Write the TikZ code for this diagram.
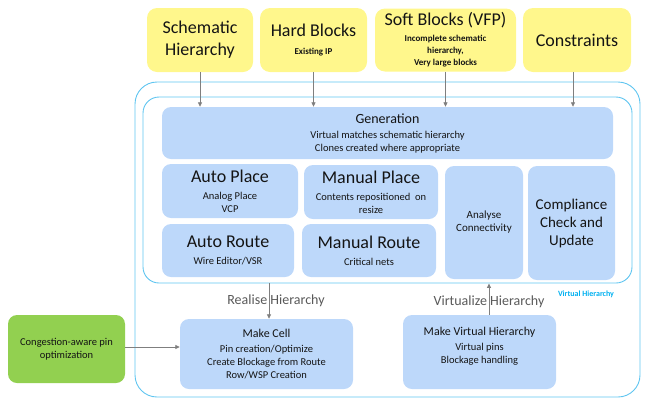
\documentclass[tikz,border=0pt]{standalone}
\usepackage{fontspec}
\setmainfont{Carlito}
\usepackage{tikz}
\usetikzlibrary{arrows.meta,calc}
\definecolor{ylw}{RGB}{255,247,140}
\definecolor{blu}{RGB}{189,216,250}
\definecolor{grn}{RGB}{146,208,80}
\definecolor{cyn}{RGB}{95,197,240}
\definecolor{lbl}{RGB}{0,176,240}
\definecolor{arr}{RGB}{127,127,127}
\definecolor{txt}{RGB}{20,20,20}
\newcommand{\ttl}[2]{{\fontsize{#1}{#1}\selectfont\mdseries #2}}

\begin{document}
\begin{tikzpicture}
[x=1pt,y=-1pt,
ybox/.style={fill=ylw,rounded corners=10pt,align=center,text=txt,
font=\fontsize{9}{12}\selectfont\bfseries},
bbox/.style={fill=blu,rounded corners=9pt,align=center,text=txt,
font=\fontsize{10.5}{13}\selectfont},
hierbox/.style={draw=cyn,line width=0.9pt,rounded corners=#1},
flow/.style={draw=arr,line width=0.8pt,-{Triangle[length=4.5pt,width=4pt]}},
flowlbl/.style={text={rgb,255:red,89;green,89;blue,89},font=\fontsize{14}{16}\selectfont}]
\useasboundingbox (0,0) rectangle (650,400);

\node (outer) at (387.5,239.5) [hierbox=22pt,minimum width=505,minimum height=315] {};
\node (inner) at (387.5,190) [hierbox=16pt,minimum width=489,minimum height=186] {};
\node (vh) at (586,294) [text=lbl,font=\fontsize{8}{10}\selectfont\bfseries] {Virtual Hierarchy};

\node (sch) at (200,40) [ybox,minimum width=106,minimum height=64,
font=\fontsize{18}{22}\selectfont] {Schematic\\Hierarchy};
\node (hard) at (313.5,40) [ybox,minimum width=107,minimum height=64]
{\ttl{18}{Hard Blocks}\\[6pt]Existing IP};
\node (soft) at (445.5,40) [ybox,minimum width=141,minimum height=63]
{\ttl{18}{Soft Blocks (VFP)}\\[4pt]Incomplete schematic\\hierarchy,\\Very large blocks};
\node (cons) at (577,40) [ybox,minimum width=108,minimum height=64,
font=\fontsize{18}{22}\selectfont] {Constraints};

\node (gen) at (387.5,133) [bbox,minimum width=451,minimum height=52]
{\ttl{14}{Generation}\\[2pt]Virtual matches schematic hierarchy\\Clones created where appropriate};
\node (ap) at (230,191) [bbox,minimum width=136,minimum height=54]
{\ttl{18}{Auto Place}\\[4pt]Analog Place\\VCP};
\node (mp) at (371,192) [bbox,minimum width=134,minimum height=54]
{\ttl{18}{Manual Place}\\[4pt]Contents repositioned~ on\\resize};
\node (ar) at (228,250.5) [bbox,minimum width=132,minimum height=53]
{\ttl{18}{Auto Route}\\[4pt]Wire Editor/VSR};
\node (mr) at (369,250.5) [bbox,minimum width=134,minimum height=53]
{\ttl{18}{Manual Route}\\[4pt]Critical nets};
\node (ac) at (484,222.5) [bbox,minimum width=78,minimum height=113,
font=\fontsize{11}{13}\selectfont] {Analyse\\Connectivity};
\node (cc) at (571.5,223) [bbox,minimum width=87,minimum height=114,
font=\fontsize{15}{18}\selectfont] {Compliance\\Check and\\Update};

\node (mc) at (266.5,354) [bbox,minimum width=173,minimum height=70]
{\ttl{12}{Make Cell}\\[2pt]Pin creation/Optimize\\Create Blockage from Route\\Row/WSP Creation};
\node (mvh) at (479.5,352) [bbox,minimum width=153,minimum height=74]
{\ttl{12}{Make Virtual Hierarchy}\\[2pt]Virtual pins\\Blockage handling\\\mbox{}};
\node (cpo) at (66.5,349) [bbox,fill=grn,minimum width=117,minimum height=68]
{Congestion-aware pin\\optimization};

\node (rl) at (276,301) [flowlbl] {Realise Hierarchy};
\node (vl) at (489,302) [flowlbl] {Virtualize Hierarchy};

\draw[flow] (sch.south) -- (sch.south |- gen.north);
\draw[flow] (hard.south) -- (hard.south |- gen.north);
\draw[flow] (soft.south) -- (soft.south |- gen.north);
\draw[flow] ([xshift=-4]cons.south) -- ([xshift=-4]cons.south |- gen.north);
\draw[flow] ([xshift=2.5]mc.north |- inner.south) -- ([xshift=2.5]mc.north);
\draw[flow] ([xshift=9.5]mvh.north) -- ([xshift=9.5]mvh.north |- inner.south);
\draw[flow] ([yshift=2]cpo.east) -- ([yshift=2]cpo.east -| mc.west);

\end{tikzpicture}
\end{document}
